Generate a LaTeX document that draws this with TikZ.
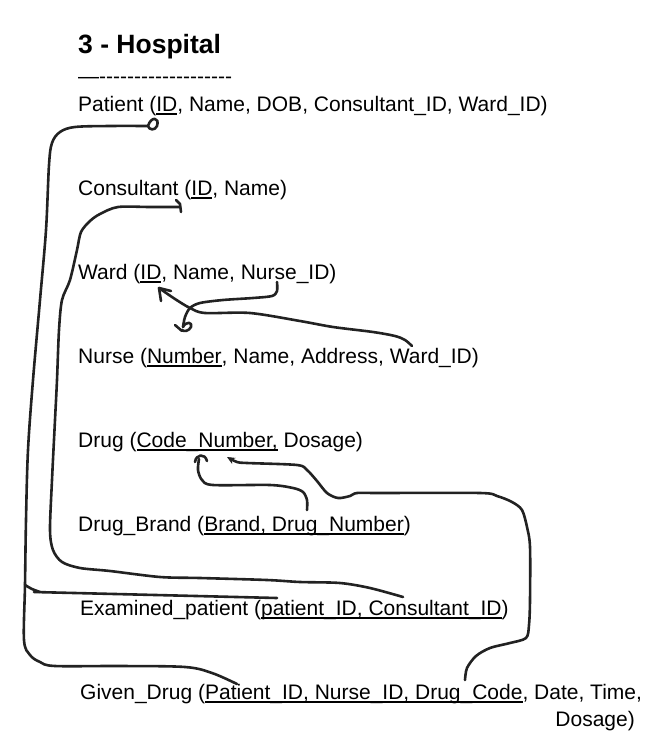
\documentclass[tikz,border=0pt]{standalone}
\usepackage{fontspec}
\setmainfont{Liberation Sans}
\usetikzlibrary{arrows.meta}
\newcommand\ulin[1]{\begingroup\setbox0=\hbox{#1}\rlap{\rule[-3.6pt]{\wd0}{1.5pt}}\box0\endgroup}
\newcommand\hy{\mbox{-}}
\definecolor{ink}{HTML}{222222}
\begin{document}
\begin{tikzpicture}[x=1pt,y=-1pt,
  txt/.style={anchor=base west,inner sep=0pt,font=\fontsize{21}{27}\selectfont,text=black},
  conn/.style={draw=ink,line width=2.6pt,line cap=round,line join=round}]
\useasboundingbox (0,0) rectangle (658,752);
% texts
\node[txt,font=\bfseries\fontsize{26.5}{30}\selectfont] (title) at (78,53) {3 - Hospital};
\node[txt] (dashes) at (78,83) {—\hy\hy\hy\hy\hy\hy\hy\hy\hy\hy\hy\hy\hy\hy\hy\hy\hy\hy\hy};
\node[txt] (patient) at (78,111) {Patient (\ulin{ID}, Name, DOB, Consultant\_ID, Ward\_ID)};
\node[txt] (consultant) at (78,195) {Consultant (\ulin{ID}, Name)};
\node[txt] (ward) at (78,279) {Ward (\ulin{ID}, Name, Nurse\_ID)};
\node[txt] (nurse) at (78,363) {Nurse (\ulin{Number}, Name, Address, Ward\_ID)};
\node[txt] (drug) at (78,447) {Drug (\ulin{Code\_Number,} Dosage)};
\node[txt] (brand) at (78,531) {Drug\_Brand (\ulin{Brand, Drug\_Number})};
\node[txt] (exam) at (80,615) {Examined\_patient (\ulin{patient\_ID, Consultant\_ID})};
\node[txt] (given) at (80,699) {Given\_Drug (\ulin{Patient\_ID, Nurse\_ID, Drug\_Code}, Date, Time,};
\node[txt,anchor=base east] (given2) at (635,726) {Dosage)};
% connector end points
\coordinate (pID) at (148,126);
\coordinate (gPat) at (237,684);
\coordinate (ePat) at (277,598);
\coordinate (cID) at (180,207);
\coordinate (eCon) at (403,597);
\coordinate (wID) at (159,288);
\coordinate (nWard) at (412,346);
\coordinate (wNurse) at (277,282);
\coordinate (nNum) at (183,327);
\coordinate (bDrug) at (307,510);
\coordinate (dCode) at (199,459);
\coordinate (gCode) at (465,680);
\coordinate (dCode2) at (227,457);
\coordinate (jn) at (25,585);
% Patient ID <- Given_Drug Patient_ID
\draw[conn] (pID) .. controls (151,116) and (160,117) .. (157,126) .. controls (155,131) and (149,130) .. (pID);
\draw[conn] plot[smooth,tension=0.55] coordinates {(pID) (110,126) (75,127) (60,132) (52,143) (49,165) (46,230) (40,300) (33,380) (28,450) (26,520) (jn) (24,640) (30,655) (40,662) (55,666) (120,666) (185,667) (212,673) (gPat)};
% Examined patient_ID branch
\draw[conn] plot[smooth,tension=0.5] coordinates {(jn) (32,589) (40,592)};
\draw[conn] (34,592) -- (ePat);
% Consultant ID <- Examined Consultant_ID
\draw[conn] (176,200) -- (180,204) -- (181,212);
\draw[conn] plot[smooth,tension=0.5] coordinates {(cID) (150,207) (118,207) (100,214) (90,221) (81,232) (77,250) (70,280) (62,300) (59,330) (57,380) (55,420) (52,480) (50,530) (53,550) (62,562) (80,568) (110,571) (160,577) (200,578) (267,580) (300,582) (340,583) (370,588) (eCon)};
% Ward ID <- Nurse Ward_ID
\draw[conn] plot[smooth,tension=0.5] coordinates {(nWard) (405,340) (395,336) (373,332) (333,327) (300,321) (250,313) (205,313) (190,308) (175,299) (wID)};
\draw[conn] (171,291) -- (wID) -- (161,301);
% Ward Nurse_ID -> Nurse Number
\draw[conn] plot[smooth,tension=0.5] coordinates {(wNurse) (277,291) (272,296) (253,298) (223,300) (200,303) (190,308) (185,317) (nNum)};
\draw[conn] (nNum) .. controls (186,321) and (193,322) .. (191,327) .. controls (189,331) and (184,332) .. (182,330);
\draw[conn] (175,325) -- (182,331);
% Drug_Brand Drug_Number -> Drug Code_Number
\draw[conn] plot[smooth,tension=0.5] coordinates {(bDrug) (307,500) (303,492) (293,488) (270,485) (213,485) (202,480) (198,470) (dCode)};
\draw[conn] (195,462) .. controls (196,454) and (205,453) .. (207,461);
% Given_Drug Drug_Code -> Drug Code_Number
\draw[conn,-{Stealth[length=8pt,width=7pt]}] plot[smooth,tension=0.5] coordinates {(gCode) (467,668) (476,656) (490,648) (510,643) (526,638) (529,625) (530,600) (530,547) (527,527) (522,510) (512,502) (497,496) (480,493) (380,493) (357,493) (350,496) (338,498) (327,493) (317,481) (307,470) (297,465) (247,463) (237,462) (dCode2)};
\end{tikzpicture}
\end{document}
